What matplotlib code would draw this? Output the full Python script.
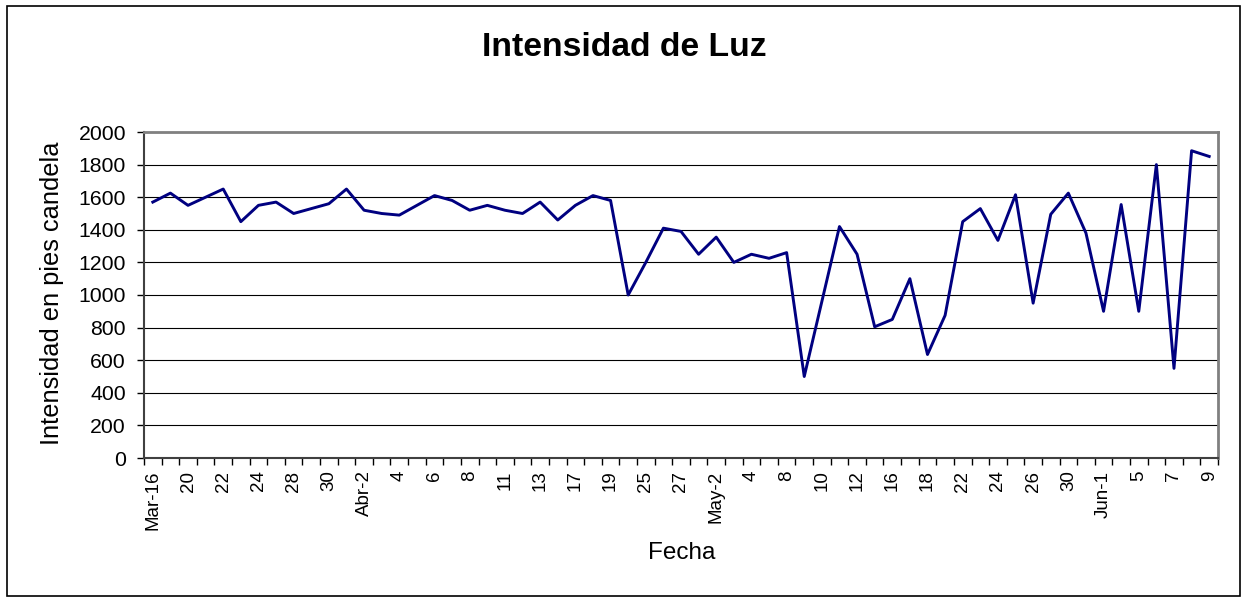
import numpy as np
import matplotlib.pyplot as plt
from matplotlib.patches import Rectangle

plt.rcParams['font.family'] = ['Liberation Sans', 'DejaVu Sans']

# lecturas diarias (intensidad en pies candela)
intensidad = [1570, 1625, 1550, 1600, 1650, 1450, 1550, 1570, 1500, 1530,
              1560, 1650, 1520, 1500, 1490, 1550, 1610, 1580, 1520, 1550,
              1520, 1500, 1570, 1460, 1550, 1610, 1580, 1000, 1200, 1410,
              1390, 1250, 1355, 1200, 1250, 1225, 1260, 500, 960, 1420,
              1250, 805, 850, 1100, 635, 875, 1450, 1530, 1335, 1615,
              950, 1495, 1625, 1380, 900, 1555, 900, 1800, 550, 1885,
              1850]
# etiquetas del eje x (una de cada dos fechas)
etiquetas = ['Mar-16', '20', '22', '24', '28', '30', 'Abr-2', '4', '6', '8',
             '11', '13', '17', '19', '25', '27', 'May-2', '4', '8', '10',
             '12', '16', '18', '22', '24', '26', '30', 'Jun-1', '5', '7', '9']

W, H = 1243, 597
fig = plt.figure(figsize=(W / 100, H / 100), dpi=100)
ax = fig.add_axes([144 / W, 1 - 458 / H, 1074 / W, 326 / H])

x = np.arange(len(intensidad))
ax.plot(x, intensidad, color='#000080', linewidth=2.1)

ax.set_xlim(-0.5, len(intensidad) - 0.5)
ax.set_ylim(0, 2000)
ax.set_yticks(np.arange(0, 2001, 200))
ax.yaxis.grid(True, color='black', linewidth=0.8)
ax.set_axisbelow(True)

# marcas entre categorias, etiquetas centradas
ax.set_xticks(np.arange(-0.5, len(intensidad)), labels=[])
ax.set_xticks(x[::2], labels=etiquetas, minor=True, rotation=90)
ax.tick_params(axis='x', which='major', length=5, width=1, color='black')
ax.tick_params(axis='x', which='minor', length=0, pad=9, labelsize=13.5)
ax.tick_params(axis='y', length=5, width=1, pad=8, labelsize=15.3)

for s in ['top', 'right']:
    ax.spines[s].set_color('#808080')
    ax.spines[s].set_linewidth(2)
for s in ['left', 'bottom']:
    ax.spines[s].set_color('#404040')
    ax.spines[s].set_linewidth(1.5)

fig.text(624 / W, 1 - 47 / H, 'Intensidad de Luz', ha='center', va='center',
         fontsize=24.3, fontweight='bold')
fig.text(52 / W, 1 - 293 / H, 'Intensidad en pies candela', ha='center',
         va='center', rotation=90, fontsize=18.3)
fig.text(682 / W, 1 - 553 / H, 'Fecha', ha='center', va='center', fontsize=17.5)

fig.patches.append(Rectangle((7 / W, 1 / H), 1233 / W, 590 / H,
                             transform=fig.transFigure, fill=False,
                             edgecolor='black', linewidth=1.2))

fig.savefig('out.png', dpi=100)
